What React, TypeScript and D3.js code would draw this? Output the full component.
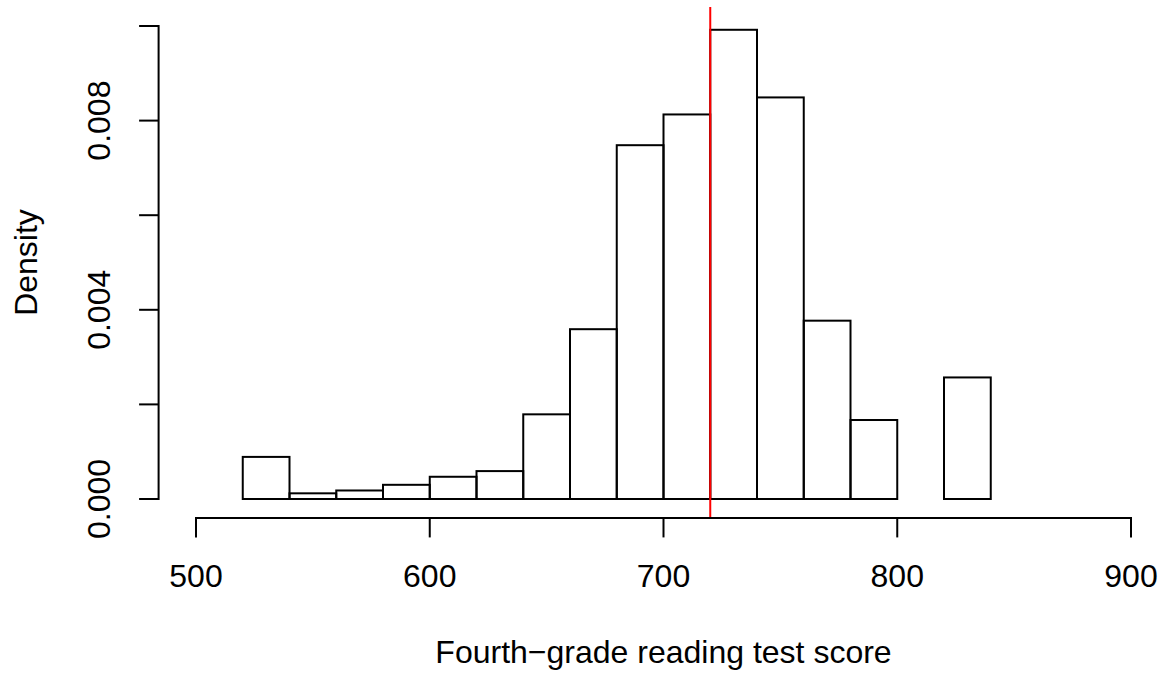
import React from 'react';
import * as d3 from 'd3';

// histogram bins (score) and their densities
const binStarts = [520, 540, 560, 580, 600, 620, 640, 660, 680, 700, 720, 740, 760, 780, 800, 820];
const binWidth = 20;
const densities = [
  0.00089, 0.00012, 0.00018, 0.0003, 0.00047, 0.00059, 0.00179, 0.00359,
  0.00748, 0.00813, 0.00992, 0.00849, 0.00377, 0.00167, 0, 0.00257,
];
const meanScore = 720;

const xTicks = [500, 600, 700, 800, 900];
const yTicks = [0, 0.002, 0.004, 0.006, 0.008, 0.01];
const yLabels = ['0.000', '0.004', '0.008'];

const WIDTH = 1161;
const HEIGHT = 673;
const FONT = '"Liberation Sans", Arial, Helvetica, sans-serif';
const FS = 32;

const App = () => {
  const x = d3.scaleLinear().domain([500, 900]).range([196, 1131]);
  const y = d3.scaleLinear().domain([0, 0.01]).range([499, 26]);

  // R-style plot region: limits stretched by 4%
  const xPad = (x.domain()[1] - x.domain()[0]) * 0.04;
  const yPad = (y.domain()[1] - y.domain()[0]) * 0.04;
  const left = x(x.domain()[0] - xPad);
  const right = x(x.domain()[1] + xPad);
  const bottom = y(y.domain()[0] - yPad);
  const top = y(y.domain()[1] + yPad);

  const tickLen = 19.5;

  return (
    <svg
      width={WIDTH}
      height={HEIGHT}
      style={{ position: 'absolute', left: 0, top: 0, background: '#fff' }}
      fontFamily={FONT}
      fontSize={FS}
    >
      {/* bars */}
      <g fill="none" stroke="#000" strokeWidth={2}>
        {binStarts.map((b, i) => (
          <rect
            key={b}
            x={x(b)}
            y={y(densities[i])}
            width={x(b + binWidth) - x(b)}
            height={y(0) - y(densities[i])}
          />
        ))}
      </g>

      {/* mean line */}
      <line x1={x(meanScore)} x2={x(meanScore)} y1={top} y2={bottom} stroke="#ff0000" strokeWidth={2} />

      {/* x axis */}
      <g stroke="#000" strokeWidth={2}>
        <line x1={x(xTicks[0])} x2={x(xTicks[xTicks.length - 1])} y1={bottom} y2={bottom} strokeLinecap="square" />
        {xTicks.map(t => (
          <line key={t} x1={x(t)} x2={x(t)} y1={bottom} y2={bottom + tickLen} />
        ))}
      </g>
      {xTicks.map(t => (
        <text key={t} x={x(t)} y={587} textAnchor="middle" fill="#000">{t}</text>
      ))}

      {/* y axis */}
      <g stroke="#000" strokeWidth={2}>
        <line x1={left} x2={left} y1={y(yTicks[0])} y2={y(yTicks[yTicks.length - 1])} strokeLinecap="square" />
        {yTicks.map(t => (
          <line key={t} x1={left - tickLen} x2={left} y1={y(t)} y2={y(t)} />
        ))}
      </g>
      {yLabels.map(l => (
        <text
          key={l}
          transform={`translate(110,${y(+l)}) rotate(-90)`}
          textAnchor="middle"
          fill="#000"
        >
          {l}
        </text>
      ))}

      {/* axis titles */}
      <text x={(left + right) / 2} y={663} textAnchor="middle" fill="#000">
        Fourth−grade reading test score
      </text>
      <text transform={`translate(37,${(top + bottom) / 2}) rotate(-90)`} textAnchor="middle" fill="#000">
        Density
      </text>
    </svg>
  );
};

export default App;
